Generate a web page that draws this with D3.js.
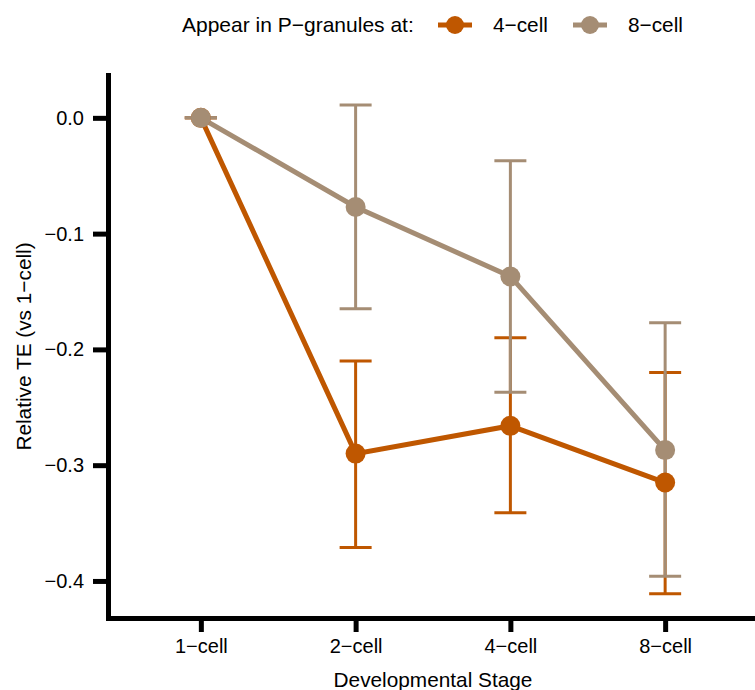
<!DOCTYPE html>
<html>
<head>
<meta charset="utf-8">
<script src="https://cdn.jsdelivr.net/npm/d3@7"></script>
<style>
body { margin: 0; background: #fff; }
svg text { font-family: "Liberation Sans", Arial, Helvetica, sans-serif; fill: #000; }
</style>
</head>
<body>
<script>
// stages on the x axis and the two groups in the legend
var stages = ["1−cell", "2−cell", "4−cell", "8−cell"];
var groups = ["4−cell", "8−cell"];
var colors = ["#BF5700", "#A58D74"];

// mean and error bar limits, per group
var mean4 = [0, -0.290, -0.266, -0.315];
var low4  = [0, -0.371, -0.341, -0.411];
var high4 = [0, -0.210, -0.190, -0.220];

var mean8 = [0, -0.077, -0.137, -0.287];
var low8  = [0, -0.165, -0.237, -0.396];
var high8 = [0, 0.011, -0.037, -0.177];

var yTicks = [0, -0.1, -0.2, -0.3, -0.4];

var w = 755, h = 690;
var margin = {top: 75, left: 108, right: -3, bottom: 72};

var svg = d3.select("body").append("svg").attr("width", w).attr("height", h);

var x = d3.scalePoint().domain(stages).range([margin.left, w - margin.right]).padding(0.6);
var y = d3.scaleLinear().domain([-0.432, 0.037]).range([h - margin.bottom, margin.top]);

var series = [
	{name: groups[0], color: colors[0], mean: mean4, low: low4, high: high4},
	{name: groups[1], color: colors[1], mean: mean8, low: low8, high: high8}
];

// axes
var xAxis = d3.axisBottom(x).tickSize(14).tickSizeOuter(0).tickPadding(7);
var yAxis = d3.axisLeft(y).tickValues(yTicks).tickFormat(d3.format(".1f")).tickSize(15).tickSizeOuter(0).tickPadding(9);

var gx = svg.append("g").attr("transform", "translate(0," + (h - margin.bottom) + ")").call(xAxis);
var gy = svg.append("g").attr("transform", "translate(" + margin.left + ",0)").call(yAxis);

[gx, gy].forEach(function(g) {
	g.select(".domain").attr("stroke", "#000").attr("stroke-width", 5).attr("stroke-linecap", "square");
	g.selectAll(".tick line").attr("stroke", "#000").attr("stroke-width", 5);
	g.selectAll(".tick text").attr("font-size", "20px").attr("fill", "#000")
		.style("font-family", "'Liberation Sans', Arial, Helvetica, sans-serif");
});

// error bars
var capHalf = 16;
series.forEach(function(s) {
	var g = svg.append("g").attr("stroke", s.color).attr("stroke-width", 3).attr("fill", "none");
	stages.forEach(function(st, i) {
		var cx = x(st);
		g.append("line").attr("x1", cx).attr("x2", cx).attr("y1", y(s.high[i])).attr("y2", y(s.low[i]));
		g.append("line").attr("x1", cx - capHalf).attr("x2", cx + capHalf).attr("y1", y(s.high[i])).attr("y2", y(s.high[i]));
		g.append("line").attr("x1", cx - capHalf).attr("x2", cx + capHalf).attr("y1", y(s.low[i])).attr("y2", y(s.low[i]));
	});
});

// mean lines
var line = d3.line().x(function(d, i) { return x(stages[i]); }).y(function(d) { return y(d); });
series.forEach(function(s) {
	svg.append("path").datum(s.mean).attr("d", line)
		.attr("fill", "none").attr("stroke", s.color).attr("stroke-width", 5);
});

// points
series.forEach(function(s) {
	svg.append("g").selectAll("circle").data(s.mean).enter().append("circle")
		.attr("cx", function(d, i) { return x(stages[i]); })
		.attr("cy", function(d) { return y(d); })
		.attr("r", 10)
		.attr("fill", s.color);
});

// axis titles
svg.append("text").attr("x", (margin.left + w - margin.right) / 2).attr("y", 687)
	.attr("text-anchor", "middle").attr("font-size", "20.8px").text("Developmental Stage");

svg.append("text").attr("transform", "translate(31," + ((margin.top + h - margin.bottom) / 2) + ") rotate(-90)")
	.attr("text-anchor", "middle").attr("font-size", "20.8px").text("Relative TE (vs 1−cell)");

// legend
var legY = 25;
svg.append("text").attr("x", 182).attr("y", 32).attr("font-size", "21px").text("Appear in P−granules at:");
var keyX = [455, 590];
series.forEach(function(s, i) {
	var k = svg.append("g");
	k.append("line").attr("x1", keyX[i] - 17).attr("x2", keyX[i] + 17).attr("y1", legY).attr("y2", legY)
		.attr("stroke", s.color).attr("stroke-width", 5);
	k.append("circle").attr("cx", keyX[i]).attr("cy", legY).attr("r", 9).attr("fill", s.color);
	k.append("text").attr("x", keyX[i] + 38).attr("y", 32).attr("font-size", "20.8px").text(s.name);
});
</script>
</body>
</html>
